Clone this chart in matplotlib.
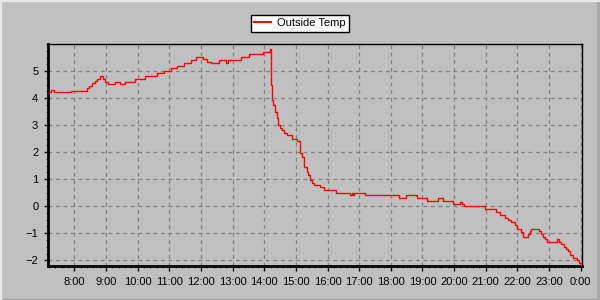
import matplotlib
matplotlib.use("Agg")
import matplotlib.pyplot as plt
from matplotlib.ticker import MultipleLocator, FixedLocator
from matplotlib.patches import Rectangle
from matplotlib.lines import Line2D

# time of day in hours, temperature (step series)
hours = [7.20, 7.27, 7.36, 7.90, 8.40, 8.48, 8.56, 8.64, 8.72, 8.80, 8.90, 8.97, 9.08,
         9.30, 9.45, 9.60, 9.92, 10.25, 10.60, 10.85, 11.05, 11.25, 11.48, 11.68, 11.85,
         12.08, 12.18, 12.33, 12.58, 12.80, 12.85, 13.27, 13.52, 13.96, 14.12, 14.18,
         14.20, 14.22, 14.24, 14.29, 14.34, 14.40, 14.45, 14.50, 14.55, 14.64, 14.73,
         14.89, 15.03, 15.14, 15.20, 15.27, 15.34, 15.39, 15.45, 15.50, 15.58, 15.76,
         15.89, 16.28, 16.72, 16.77, 16.79, 16.84, 17.20, 18.25, 18.48, 18.83, 19.15,
         19.49, 19.65, 19.95, 20.20, 20.24, 20.30, 20.97, 21.32, 21.46, 21.60, 21.70,
         21.81, 21.92, 22.00, 22.12, 22.18, 22.33, 22.39, 22.44, 22.67, 22.76, 22.81,
         22.86, 22.94, 23.25, 23.30, 23.38, 23.47, 23.54, 23.60, 23.67, 23.75, 23.88,
         23.95, 24.00]
temps = [4.23, 4.30, 4.21, 4.28, 4.36, 4.45, 4.55, 4.64, 4.72, 4.80, 4.70, 4.60, 4.52,
         4.58, 4.52, 4.58, 4.69, 4.81, 4.91, 5.01, 5.10, 5.20, 5.28, 5.40, 5.51,
         5.45, 5.35, 5.28, 5.40, 5.28, 5.40, 5.51, 5.62, 5.69, 5.70, 5.80,
         5.06, 4.48, 3.93, 3.74, 3.49, 3.25, 3.00, 2.91, 2.81, 2.69, 2.63,
         2.48, 2.42, 1.95, 1.83, 1.46, 1.27, 1.15, 0.96, 0.86, 0.78, 0.70,
         0.59, 0.48, 0.41, 0.48, 0.41, 0.48, 0.42, 0.29, 0.42, 0.29, 0.19,
         0.29, 0.19, 0.07, 0.16, 0.10, 0.00, -0.12, -0.22, -0.31, -0.42, -0.52,
         -0.60, -0.70, -0.83, -0.95, -1.12, -1.01, -0.93, -0.83, -0.93, -1.01, -1.13,
         -1.23, -1.33, -1.23, -1.33, -1.41, -1.51, -1.57, -1.66, -1.81, -1.91, -2.00,
         -2.10, -2.19]

xtick_hours = list(range(8, 25))
xtick_labels = [f"{h % 24}:00" for h in xtick_hours]
ytick_values = [-2, -1, 0, 1, 2, 3, 4, 5]
series_name = "Outside Temp"

plt.rcParams['font.family'] = ['Liberation Sans', 'DejaVu Sans']
bg = '#c0c0c0'
fig = plt.figure(figsize=(6, 3), dpi=100, facecolor=bg)
ax = fig.add_axes([48/600, 1-265.7/300, (581.7-48)/600, (265.7-44)/300])
ax.set_facecolor(bg)

ax.plot(hours, temps, color='#ff0000', lw=1.0, drawstyle='steps-post', zorder=3)

ax.set_xlim(7.17, 24.03)
ax.set_ylim(-2.2, 6.0)
ax.xaxis.set_major_locator(FixedLocator(xtick_hours))
ax.set_xticklabels(xtick_labels)
ax.xaxis.set_minor_locator(MultipleLocator(0.2))
ax.yaxis.set_major_locator(FixedLocator(ytick_values))
ax.yaxis.set_minor_locator(MultipleLocator(0.25))

ax.grid(True, which='major', color='#808080', linestyle=(0, (3, 3)), lw=0.9)
ax.tick_params(axis='both', which='major', labelsize=8, colors='black', length=3, width=1, pad=4)
ax.tick_params(axis='both', which='minor', length=1.6, width=0.8, colors='#404040')
ax.tick_params(axis='x', which='major', length=3.5, pad=4.5)

for s in ['left', 'bottom']:
    ax.spines[s].set_linewidth(2)
for s in ['top', 'right']:
    ax.spines[s].set_linewidth(1)
for s in ax.spines.values():
    s.set_color('black')

handle = Line2D([], [], color='#ff0000', lw=1.5)
leg = fig.legend([handle], [series_name], loc='upper center', bbox_to_anchor=(0.5, 1-15/300),
                 fontsize=8, frameon=True, fancybox=False, framealpha=1,
                 edgecolor='black', facecolor='white', handlelength=1.5,
                 borderpad=0.3, handletextpad=0.6, borderaxespad=0)
leg.get_frame().set_linewidth(1)

# bevelled outer frame
fig.patches.append(Rectangle((0, 0), 1, 1/300, transform=fig.transFigure, color='#a0a0a0', zorder=10))
fig.patches.append(Rectangle((1-3/600, 0), 3/600, 1, transform=fig.transFigure, color='#a8a8a8', zorder=10))
fig.patches.append(Rectangle((0, 1-1/300), 1, 1/300, transform=fig.transFigure, color='#e8e8e8', zorder=10))
fig.patches.append(Rectangle((0, 0), 1/600, 1, transform=fig.transFigure, color='#e8e8e8', zorder=10))

fig.savefig('out.png', dpi=100, facecolor=bg)
